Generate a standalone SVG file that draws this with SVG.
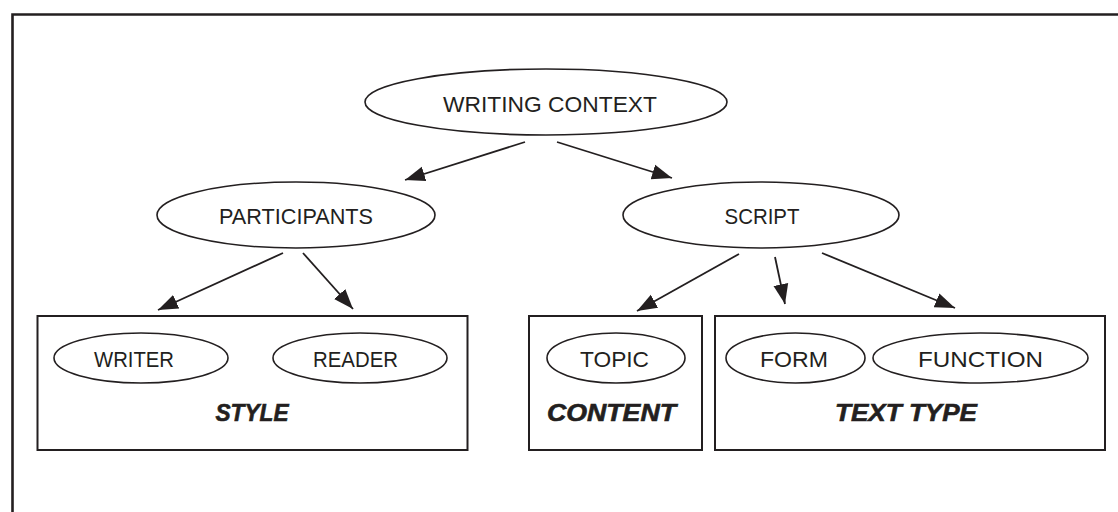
<svg xmlns="http://www.w3.org/2000/svg" width="1118" height="512" viewBox="0 0 1118 512">
<style>
.e{fill:#fff;stroke:#231f20;stroke-width:1.6}
.b{fill:none;stroke:#231f20;stroke-width:2}
.t{font-family:"Liberation Sans",Arial,sans-serif;font-size:22px;fill:#231f20;text-anchor:middle}
.h{font-family:"Liberation Sans",Arial,sans-serif;font-size:23px;font-weight:bold;font-style:italic;fill:#231f20;text-anchor:middle;stroke:#231f20;stroke-width:0.6}
.c{stroke:#231f20;stroke-width:1.8;fill:none;marker-end:url(#ah)}
</style>
<defs>
<marker id="ah" markerUnits="userSpaceOnUse" markerWidth="20" markerHeight="20" viewBox="0 0 16 12" refX="16" refY="6" orient="auto">
<path d="M0,0 L16,6 L0,12 Z" fill="#231f20"/>
</marker>
</defs>
<rect width="1118" height="512" fill="#fff"/>
<path d="M12.5,512 V14.5 H1118" fill="none" stroke="#231f20" stroke-width="2.6"/>
<g id="connectors">
<line class="c" x1="525" y1="142" x2="405" y2="180"/>
<line class="c" x1="557" y1="142" x2="672" y2="178"/>
<line class="c" x1="283" y1="253" x2="158" y2="310"/>
<line class="c" x1="303" y1="253" x2="353" y2="309"/>
<line class="c" x1="739" y1="254" x2="637" y2="311"/>
<line class="c" x1="775" y1="257" x2="785" y2="304"/>
<line class="c" x1="822" y1="253" x2="955" y2="308"/>
</g>
<g id="writing-context">
<ellipse class="e" cx="546" cy="102" rx="181" ry="33"/>
<text class="t" x="550" y="112" textLength="214" lengthAdjust="spacingAndGlyphs">WRITING CONTEXT</text>
</g>
<g id="participants">
<ellipse class="e" cx="296" cy="215" rx="139" ry="33"/>
<text class="t" x="296" y="224" textLength="154" lengthAdjust="spacingAndGlyphs">PARTICIPANTS</text>
</g>
<g id="script">
<ellipse class="e" cx="761" cy="215" rx="138" ry="33"/>
<text class="t" x="762" y="224" textLength="75" lengthAdjust="spacingAndGlyphs">SCRIPT</text>
</g>
<g id="style-box">
<rect class="b" x="37.5" y="316" width="430" height="134"/>
<text class="h" x="252" y="421" textLength="73" lengthAdjust="spacingAndGlyphs">STYLE</text>
</g>
<g id="writer">
<ellipse class="e" cx="141" cy="358" rx="87" ry="25"/>
<text class="t" x="134" y="367" textLength="80" lengthAdjust="spacingAndGlyphs">WRITER</text>
</g>
<g id="reader">
<ellipse class="e" cx="360" cy="358" rx="87" ry="25"/>
<text class="t" x="355.5" y="367" textLength="85" lengthAdjust="spacingAndGlyphs">READER</text>
</g>
<g id="content-box">
<rect class="b" x="529" y="316" width="173" height="134"/>
<text class="h" x="611.5" y="421" textLength="129" lengthAdjust="spacingAndGlyphs">CONTENT</text>
</g>
<g id="topic">
<ellipse class="e" cx="616" cy="358" rx="69" ry="25"/>
<text class="t" x="614.5" y="367" textLength="69" lengthAdjust="spacingAndGlyphs">TOPIC</text>
</g>
<g id="text-type-box">
<rect class="b" x="715" y="316" width="390" height="134"/>
<text class="h" x="906" y="421" textLength="142" lengthAdjust="spacingAndGlyphs">TEXT TYPE</text>
</g>
<g id="form">
<ellipse class="e" cx="795.5" cy="358" rx="69.5" ry="25"/>
<text class="t" x="794" y="367" textLength="68" lengthAdjust="spacingAndGlyphs">FORM</text>
</g>
<g id="function">
<ellipse class="e" cx="980.5" cy="358" rx="107.5" ry="25"/>
<text class="t" x="980.5" y="367" textLength="125" lengthAdjust="spacingAndGlyphs">FUNCTION</text>
</g>
</svg>
